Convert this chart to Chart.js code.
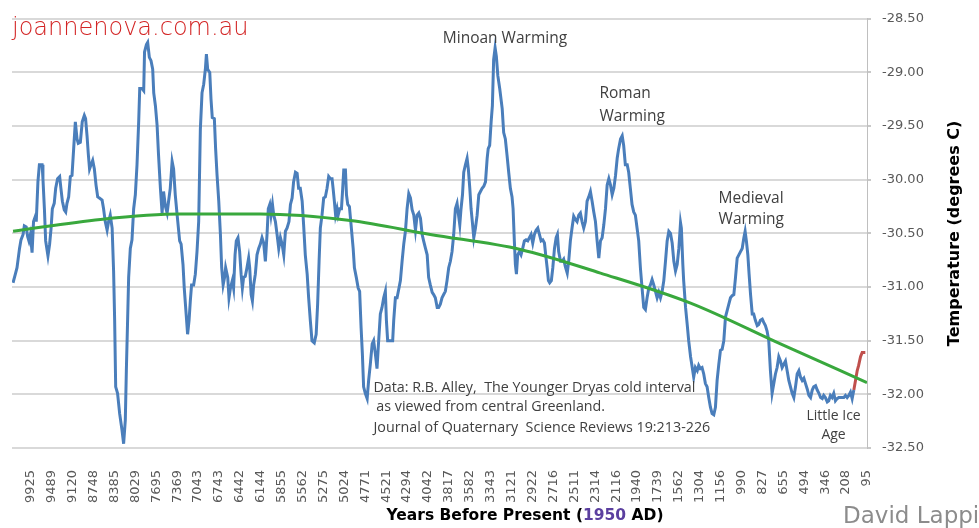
<!DOCTYPE html>
<html>
<head>
<meta charset="utf-8">
<script src="https://cdn.jsdelivr.net/npm/chart.js@4.4.0/dist/chart.umd.min.js"></script>
<style>
  html, body { margin: 0; padding: 0; background: #fff; }
</style>
</head>
<body>
<canvas id="chart" width="979" height="528"></canvas>
<script>
// tick labels (years before present) shown under the category positions 0..40
var yearLabels = ['9925','9489','9120','8748','8385','8029','7695','7369','7043','6743',
  '6442','6144','5855','5562','5275','5024','4771','4521','4294','4042',
  '3817','3582','3343','3121','2922','2716','2511','2314','2116','1940',
  '1739','1562','1304','1156','990','827','655','494','346','208','95'];

// right axis ticks (degrees C)
var tempTicks = [-32.5, -32.0, -31.5, -31.0, -30.5, -30.0, -29.5, -29.0, -28.5];

// GISP2 series (Alley), x = position along the label row
var alleyPos = [
  -0.85,-0.74,-0.66,-0.54,-0.47,-0.37,-0.31,-0.22,-0.15,-0.09,
  -0.02,0.06,0.13,0.22,0.26,0.34,0.41,0.54,0.58,0.65,
  0.71,0.82,0.90,0.97,1.03,1.12,1.19,1.28,1.38,1.44,
  1.51,1.60,1.67,1.73,1.81,1.89,1.97,2.05,2.13,2.21,
  2.27,2.37,2.46,2.56,2.62,2.69,2.75,2.81,2.88,2.96,
  3.04,3.12,3.20,3.28,3.41,3.48,3.56,3.65,3.72,3.80,
  3.89,3.96,4.01,4.06,4.15,4.25,4.36,4.44,4.52,4.57,
  4.63,4.68,4.76,4.84,4.92,5.00,5.08,5.16,5.21,5.32,
  5.40,5.44,5.53,5.59,5.67,5.75,5.83,5.88,5.96,6.04,
  6.11,6.20,6.28,6.35,6.44,6.52,6.59,6.67,6.76,6.83,
  6.91,7.00,7.12,
  7.19,7.28,7.34,7.43,7.50,7.57,7.63,7.69,7.79,7.87,
  7.95,8.03,8.11,8.19,8.27,8.35,8.40,8.46,8.56,8.62,
  8.68,8.78,8.84,8.91,8.99,9.07,9.13,9.20,9.27,9.32,
  9.42,9.48,9.55,9.64,9.70,9.77,9.83,9.91,9.99,10.06,
  10.12,10.18,10.26,10.34,10.42,10.47,10.54,10.60,10.66,10.74,
  10.82,10.90,10.98,11.06,11.14,11.22,11.30,11.36,11.43,11.49,
  11.56,11.62,11.70,11.78,11.86,11.94,12.02,12.10,12.18,12.26,
  12.35,12.42,12.50,12.57,12.66,12.74,12.81,12.89,12.98,13.05,
  13.13,13.22,13.29,13.37,13.45,13.56,13.65,13.72,13.79,13.85,
  13.93,14.01,14.09,14.17,14.25,14.33,14.41,14.46,14.52,14.58,
  14.65,14.70,14.78,14.86,14.92,14.97,15.05,15.10,15.16,
  15.24,15.32,15.42,15.48,15.57,15.66,15.73,15.80,15.86,15.92,
  16.00,16.09,16.16,16.24,16.33,16.40,16.48,16.56,16.64,16.72,
  16.80,16.88,16.96,17.01,17.07,17.20,17.31,17.36,17.44,17.52,
  17.60,17.68,17.76,17.84,17.92,18.00,18.08,18.16,18.24,18.32,
  18.40,18.48,18.56,18.64,18.72,18.79,18.88,18.96,19.03,19.11,
  19.20,19.27,19.35,19.44,19.51,19.59,19.67,19.75,19.83,19.91,
  19.99,20.07,20.15,20.23,20.31,20.39,20.44,20.52,20.58,20.65,
  20.71,20.79,20.87,20.93,21.00,21.06,21.12,21.19,21.27,21.35,
  21.43,21.51,21.59,21.67,21.75,21.83,21.88,21.95,22.02,22.08,
  22.14,22.21,22.27,22.34,22.43,22.55,22.62,22.70,22.78,22.86,
  22.94,23.02,23.07,23.13,23.18,23.23,
  23.29,23.37,23.45,23.53,23.61,23.69,23.77,23.85,23.93,24.01,
  24.09,24.17,24.25,24.33,24.41,24.49,24.57,24.63,24.70,24.76,
  24.82,24.90,24.97,25.05,25.13,25.19,25.25,25.34,25.42,25.49,
  25.57,25.66,25.73,25.81,25.89,25.97,26.05,26.13,26.21,26.29,
  26.37,26.45,26.53,26.61,26.69,26.77,26.85,26.93,27.01,27.09,
  27.17,27.25,27.33,27.41,27.49,27.57,27.65,27.73,27.81,27.89,
  27.97,28.05,28.12,28.21,28.29,28.36,28.44,28.53,28.60,28.68,
  28.76,28.84,28.92,29.00,29.08,29.16,29.24,29.32,29.40,29.48,
  29.56,29.64,29.72,29.80,29.88,29.96,30.04,30.12,30.20,30.28,
  30.36,30.44,30.52,30.60,30.68,30.76,30.84,30.92,31.00,31.08,
  31.12,31.19,31.23,31.32,31.40,31.47,31.56,
  31.64,31.71,31.79,31.88,31.95,32.03,32.11,32.19,32.27,32.35,
  32.43,32.51,32.59,32.67,32.75,32.83,32.91,32.99,33.07,33.15,
  33.23,33.31,33.39,33.47,33.55,33.63,33.71,33.79,33.87,33.95,
  34.03,34.11,34.17,34.23,34.30,34.36,34.43,34.51,34.58,34.66,
  34.75,34.82,34.90,34.99,35.06,35.14,35.22,35.30,35.38,35.46,
  35.54,35.62,35.70,35.78,35.86,35.94,36.02,36.10,36.18,36.26,
  36.34,36.42,36.50,36.58,36.66,36.74,36.82,36.90,36.98,37.06,
  37.14,37.22,37.30,37.38,37.45,37.54,37.62,37.70,37.78,37.86,
  37.93,38.01,38.10,38.17,38.25,38.33,38.41,38.49,38.57,38.65,
  38.73,38.81,38.89,38.97,39.05,39.13,39.21,39.29,39.37
];
var alleyTemp = [
  -30.96,-30.88,-30.82,-30.64,-30.56,-30.51,-30.43,-30.44,-30.53,-30.57,
  -30.51,-30.68,-30.39,-30.34,-30.39,-30.02,-29.86,-29.86,-29.99,-30.27,
  -30.57,-30.71,-30.60,-30.45,-30.27,-30.22,-30.08,-29.99,-29.97,-30.08,
  -30.20,-30.28,-30.30,-30.22,-30.16,-29.97,-29.96,-29.71,-29.46,-29.62,
  -29.66,-29.65,-29.46,-29.40,-29.43,-29.59,-29.76,-29.90,-29.86,-29.82,
  -29.90,-30.05,-30.16,-30.17,-30.19,-30.27,-30.39,-30.47,-30.39,-30.33,
  -30.45,-30.85,-31.31,-31.93,-31.99,-32.18,-32.33,-32.46,-32.24,-31.78,
  -31.31,-30.91,-30.64,-30.56,-30.27,-30.14,-29.86,-29.46,-29.15,-29.15,
  -29.17,-28.81,-28.74,-28.72,-28.86,-28.89,-28.97,-29.19,-29.31,-29.49,
  -29.77,-30.08,-30.31,-30.11,-30.25,-30.31,-30.20,-30.08,-29.83,-29.90,
  -30.14,-30.33,-30.57,
  -30.60,-30.79,-31.01,-31.25,-31.44,-31.31,-31.13,-30.98,-30.98,-30.88,
  -30.67,-30.39,-29.53,-29.19,-29.11,-28.97,-28.83,-28.97,-29.00,-29.25,
  -29.42,-29.43,-29.71,-29.96,-30.20,-30.51,-30.82,-30.98,-30.91,-30.82,
  -30.91,-31.10,-31.01,-30.94,-31.01,-30.70,-30.57,-30.54,-30.67,-30.88,
  -31.01,-30.91,-30.90,-30.82,-30.73,-30.82,-31.07,-31.13,-30.98,-30.88,
  -30.70,-30.64,-30.60,-30.54,-30.59,-30.76,-30.51,-30.27,-30.23,-30.33,
  -30.23,-30.33,-30.39,-30.51,-30.64,-30.54,-30.60,-30.70,-30.48,-30.45,
  -30.39,-30.23,-30.17,-30.02,-29.93,-29.94,-30.08,-30.08,-30.20,-30.42,
  -30.70,-30.88,-31.10,-31.31,-31.50,-31.52,-31.44,-31.16,-30.76,-30.45,
  -30.33,-30.17,-30.16,-30.08,-29.97,-29.99,-29.99,-30.08,-30.20,-30.33,
  -30.27,-30.33,-30.27,-30.27,-30.08,-29.91,-29.91,-30.14,-30.23,
  -30.25,-30.42,-30.64,-30.82,-30.91,-31.01,-31.04,-31.38,-31.62,-31.93,
  -31.99,-32.04,-31.87,-31.72,-31.53,-31.50,-31.62,-31.76,-31.50,-31.25,
  -31.19,-31.10,-31.04,-31.31,-31.50,-31.50,-31.50,-31.31,-31.10,-31.10,
  -31.02,-30.94,-30.76,-30.60,-30.48,-30.27,-30.13,-30.17,-30.28,-30.33,
  -30.47,-30.33,-30.31,-30.36,-30.51,-30.57,-30.64,-30.70,-30.91,-30.98,
  -31.05,-31.07,-31.10,-31.19,-31.19,-31.16,-31.10,-31.07,-31.04,-30.94,
  -30.82,-30.76,-30.67,-30.51,-30.27,-30.22,-30.30,-30.42,-30.27,-30.14,
  -29.93,-29.86,-29.80,-29.90,-30.08,-30.27,-30.39,-30.54,-30.45,-30.33,
  -30.14,-30.11,-30.08,-30.06,-30.02,-29.80,-29.71,-29.68,-29.46,-29.31,
  -28.88,-28.77,-28.85,-29.03,-29.15,-29.34,-29.56,-29.62,-29.77,-29.93,
  -30.08,-30.16,-30.27,-30.57,-30.79,-30.88,
  -30.70,-30.67,-30.70,-30.64,-30.57,-30.56,-30.57,-30.54,-30.51,-30.59,
  -30.51,-30.47,-30.45,-30.51,-30.57,-30.56,-30.59,-30.70,-30.82,-30.94,
  -30.96,-30.94,-30.82,-30.64,-30.54,-30.51,-30.67,-30.76,-30.76,-30.74,
  -30.81,-30.87,-30.76,-30.57,-30.45,-30.34,-30.37,-30.39,-30.33,-30.31,
  -30.39,-30.45,-30.39,-30.20,-30.16,-30.11,-30.20,-30.30,-30.39,-30.57,
  -30.73,-30.57,-30.54,-30.42,-30.27,-30.05,-29.99,-30.05,-30.14,-30.08,
  -29.96,-29.80,-29.71,-29.62,-29.59,-29.68,-29.86,-29.86,-29.93,-30.08,
  -30.23,-30.30,-30.33,-30.45,-30.57,-30.82,-31.01,-31.19,-31.21,-31.10,
  -31.01,-30.98,-30.93,-30.98,-31.04,-31.10,-31.05,-31.10,-31.04,-30.94,
  -30.76,-30.57,-30.48,-30.50,-30.59,-30.76,-30.85,-30.79,-30.64,-30.40,
  -30.45,-30.79,-30.94,-31.19,-31.35,-31.50,-31.65,
  -31.75,-31.84,-31.75,-31.78,-31.73,-31.76,-31.75,-31.81,-31.90,-31.93,
  -32.03,-32.12,-32.18,-32.19,-32.12,-31.87,-31.72,-31.59,-31.58,-31.50,
  -31.28,-31.22,-31.16,-31.10,-31.08,-31.07,-30.91,-30.73,-30.70,-30.67,
  -30.64,-30.54,-30.48,-30.57,-30.70,-30.88,-31.07,-31.25,-31.25,-31.31,
  -31.36,-31.35,-31.31,-31.30,-31.33,-31.36,-31.41,-31.50,-31.78,-31.99,
  -31.90,-31.81,-31.75,-31.65,-31.69,-31.75,-31.72,-31.69,-31.78,-31.87,
  -31.93,-31.99,-32.03,-31.93,-31.81,-31.78,-31.84,-31.87,-31.85,-31.90,
  -31.95,-32.01,-32.03,-31.96,-31.93,-31.92,-31.96,-31.99,-32.03,-32.04,
  -32.01,-32.03,-32.07,-32.06,-32.01,-32.03,-31.99,-32.06,-32.04,-32.03,
  -32.03,-32.03,-32.03,-32.01,-32.03,-32.01,-31.98,-32.04,-31.96
];

// recent (red) segment
var recentPos  = [39.37, 39.45, 39.53, 39.60, 39.69, 39.77, 39.84, 39.92];
var recentTemp = [-31.96, -31.87, -31.78, -31.73, -31.65, -31.61, -31.61, -31.61];

// trend (green)
var trendPos  = [-0.85, 3.33, 7.15, 10.98, 15.28, 19.11, 23.42, 27.25, 31.56, 35.86, 40];
var trendTemp = [-30.48, -30.37, -30.32, -30.32, -30.38, -30.51, -30.65, -30.87, -31.15, -31.53, -31.89];

function toPoints(xs, ys) {
    var pts = [];
    var n = Math.min(xs.length, ys.length);
    for (var i = 0; i < n; i++) {
        pts.push({ x: xs[i], y: ys[i] });
    }
    return pts;
}

// annotations, placed in chart units
var notes = [
    { text: 'Minoan Warming', p: 22.68, t: -28.68, align: 'center', font: '15.5px "Open Sans"' },
    { text: 'Roman', p: 27.2, t: -29.20, align: 'left', font: '15.5px "Open Sans"' },
    { text: 'Warming', p: 27.2, t: -29.41, align: 'left', font: '15.5px "Open Sans"' },
    { text: 'Medieval', p: 32.9, t: -30.18, align: 'left', font: '15.5px "Open Sans"' },
    { text: 'Warming', p: 32.9, t: -30.37, align: 'left', font: '15.5px "Open Sans"' },
    { text: 'Little Ice', p: 38.4, t: -32.20, align: 'center', font: '14px "Open Sans"' },
    { text: 'Age', p: 38.4, t: -32.38, align: 'center', font: '14px "Open Sans"' },
    { text: 'Data: R.B. Alley,  The Younger Dryas cold interval', p: 16.39, t: -31.94, align: 'left', font: '14.3px "Open Sans"' },
    { text: 'as viewed from central Greenland.', p: 16.53, t: -32.12, align: 'left', font: '14.3px "Open Sans"' },
    { text: 'Journal of Quaternary  Science Reviews 19:213-226', p: 16.39, t: -32.31, align: 'left', font: '14.3px "Open Sans"' }
];

// 텍스트 그리기 플러그인
var textPlugin = {
    id: 'textPlugin',
    afterDraw: function(chart) {
        var ctx = chart.ctx;
        var xs = chart.scales.x;
        var ys = chart.scales.y;
        var area = chart.chartArea;
        ctx.save();

        ctx.textBaseline = 'middle';
        ctx.fillStyle = '#404040';
        notes.forEach(function(n) {
            ctx.font = n.font;
            ctx.textAlign = n.align;
            ctx.fillText(n.text, xs.getPixelForValue(n.p), ys.getPixelForValue(n.t));
        });

        // watermark
        ctx.textBaseline = 'alphabetic';
        ctx.textAlign = 'left';
        ctx.font = '300 24px "DejaVu Sans"';
        ctx.fillStyle = '#d32424';
        ctx.fillText('joannenova.com.au', 12, 35);

        // x title, 1950 in purple
        var parts = [['Years Before Present (', '#000000'], ['1950', '#5b3f9f'], [' AD)', '#000000']];
        ctx.font = 'bold 15.5px "DejaVu Sans"';
        var total = 0;
        parts.forEach(function(p) { total += ctx.measureText(p[0]).width; });
        var tx = 525 - total / 2;
        ctx.textBaseline = 'middle';
        parts.forEach(function(p) {
            ctx.fillStyle = p[1];
            ctx.fillText(p[0], tx, 516);
            tx += ctx.measureText(p[0]).width;
        });

        // credit
        ctx.font = '23px "DejaVu Sans"';
        ctx.fillStyle = '#8c8c8c';
        ctx.textBaseline = 'alphabetic';
        ctx.fillText('David Lappi', 843, 523);

        // y title, reads bottom to top
        ctx.translate(955, (area.top + area.bottom) / 2);
        ctx.rotate(-Math.PI / 2);
        ctx.textAlign = 'center';
        ctx.textBaseline = 'middle';
        ctx.font = 'bold 16px "DejaVu Sans"';
        ctx.fillStyle = '#000000';
        ctx.fillText('Temperature (degrees C)', 0, 0);

        ctx.restore();
    }
};

var canvas = document.getElementById('chart').getContext('2d');
var myChart = new Chart(canvas, {
    type: 'line',
    data: {
        datasets: [
            {
                label: 'Trend',
                data: toPoints(trendPos, trendTemp),
                borderColor: '#39a83d',
                borderWidth: 3,
                pointRadius: 0,
                cubicInterpolationMode: 'monotone'
            },
            {
                label: 'GISP2',
                data: toPoints(alleyPos, alleyTemp),
                borderColor: '#4a7ebb',
                borderWidth: 3,
                pointRadius: 0,
                tension: 0
            },
            {
                label: 'Recent',
                data: toPoints(recentPos, recentTemp),
                borderColor: '#c0504d',
                borderWidth: 3,
                pointRadius: 0,
                tension: 0
            }
        ]
    },
    options: {
        responsive: false,
        animation: false,
        layout: { padding: { left: 12, top: 16, right: 0, bottom: 0 } },
        plugins: {
            legend: { display: false },
            tooltip: { enabled: false }
        },
        scales: {
            x: {
                type: 'linear',
                min: -0.9,
                max: 40,
                grid: { display: false },
                border: { display: false },
                afterBuildTicks: function(scale) {
                    scale.ticks = yearLabels.map(function(l, i) { return { value: i }; });
                },
                afterFit: function(scale) { scale.height = 80; },
                ticks: {
                    autoSkip: false,
                    minRotation: 90,
                    maxRotation: 90,
                    padding: 14,
                    color: '#595959',
                    font: { family: 'DejaVu Sans', size: 13 },
                    callback: function(value) { return yearLabels[Math.round(value)]; }
                }
            },
            y: {
                position: 'right',
                min: -32.5,
                max: -28.5,
                afterBuildTicks: function(scale) {
                    scale.ticks = tempTicks.map(function(v) { return { value: v }; });
                },
                afterFit: function(scale) { scale.width = 112; },
                grid: { color: '#d9d9d9', lineWidth: 2, tickLength: 4, tickColor: '#c8c8c8' },
                border: { display: true, color: '#bfbfbf', width: 1 },
                ticks: {
                    padding: 11,
                    color: '#595959',
                    font: { family: 'DejaVu Sans', size: 13 },
                    callback: function(value) { return value.toFixed(2); }
                }
            }
        }
    },
    plugins: [textPlugin]
});
</script>
</body>
</html>
